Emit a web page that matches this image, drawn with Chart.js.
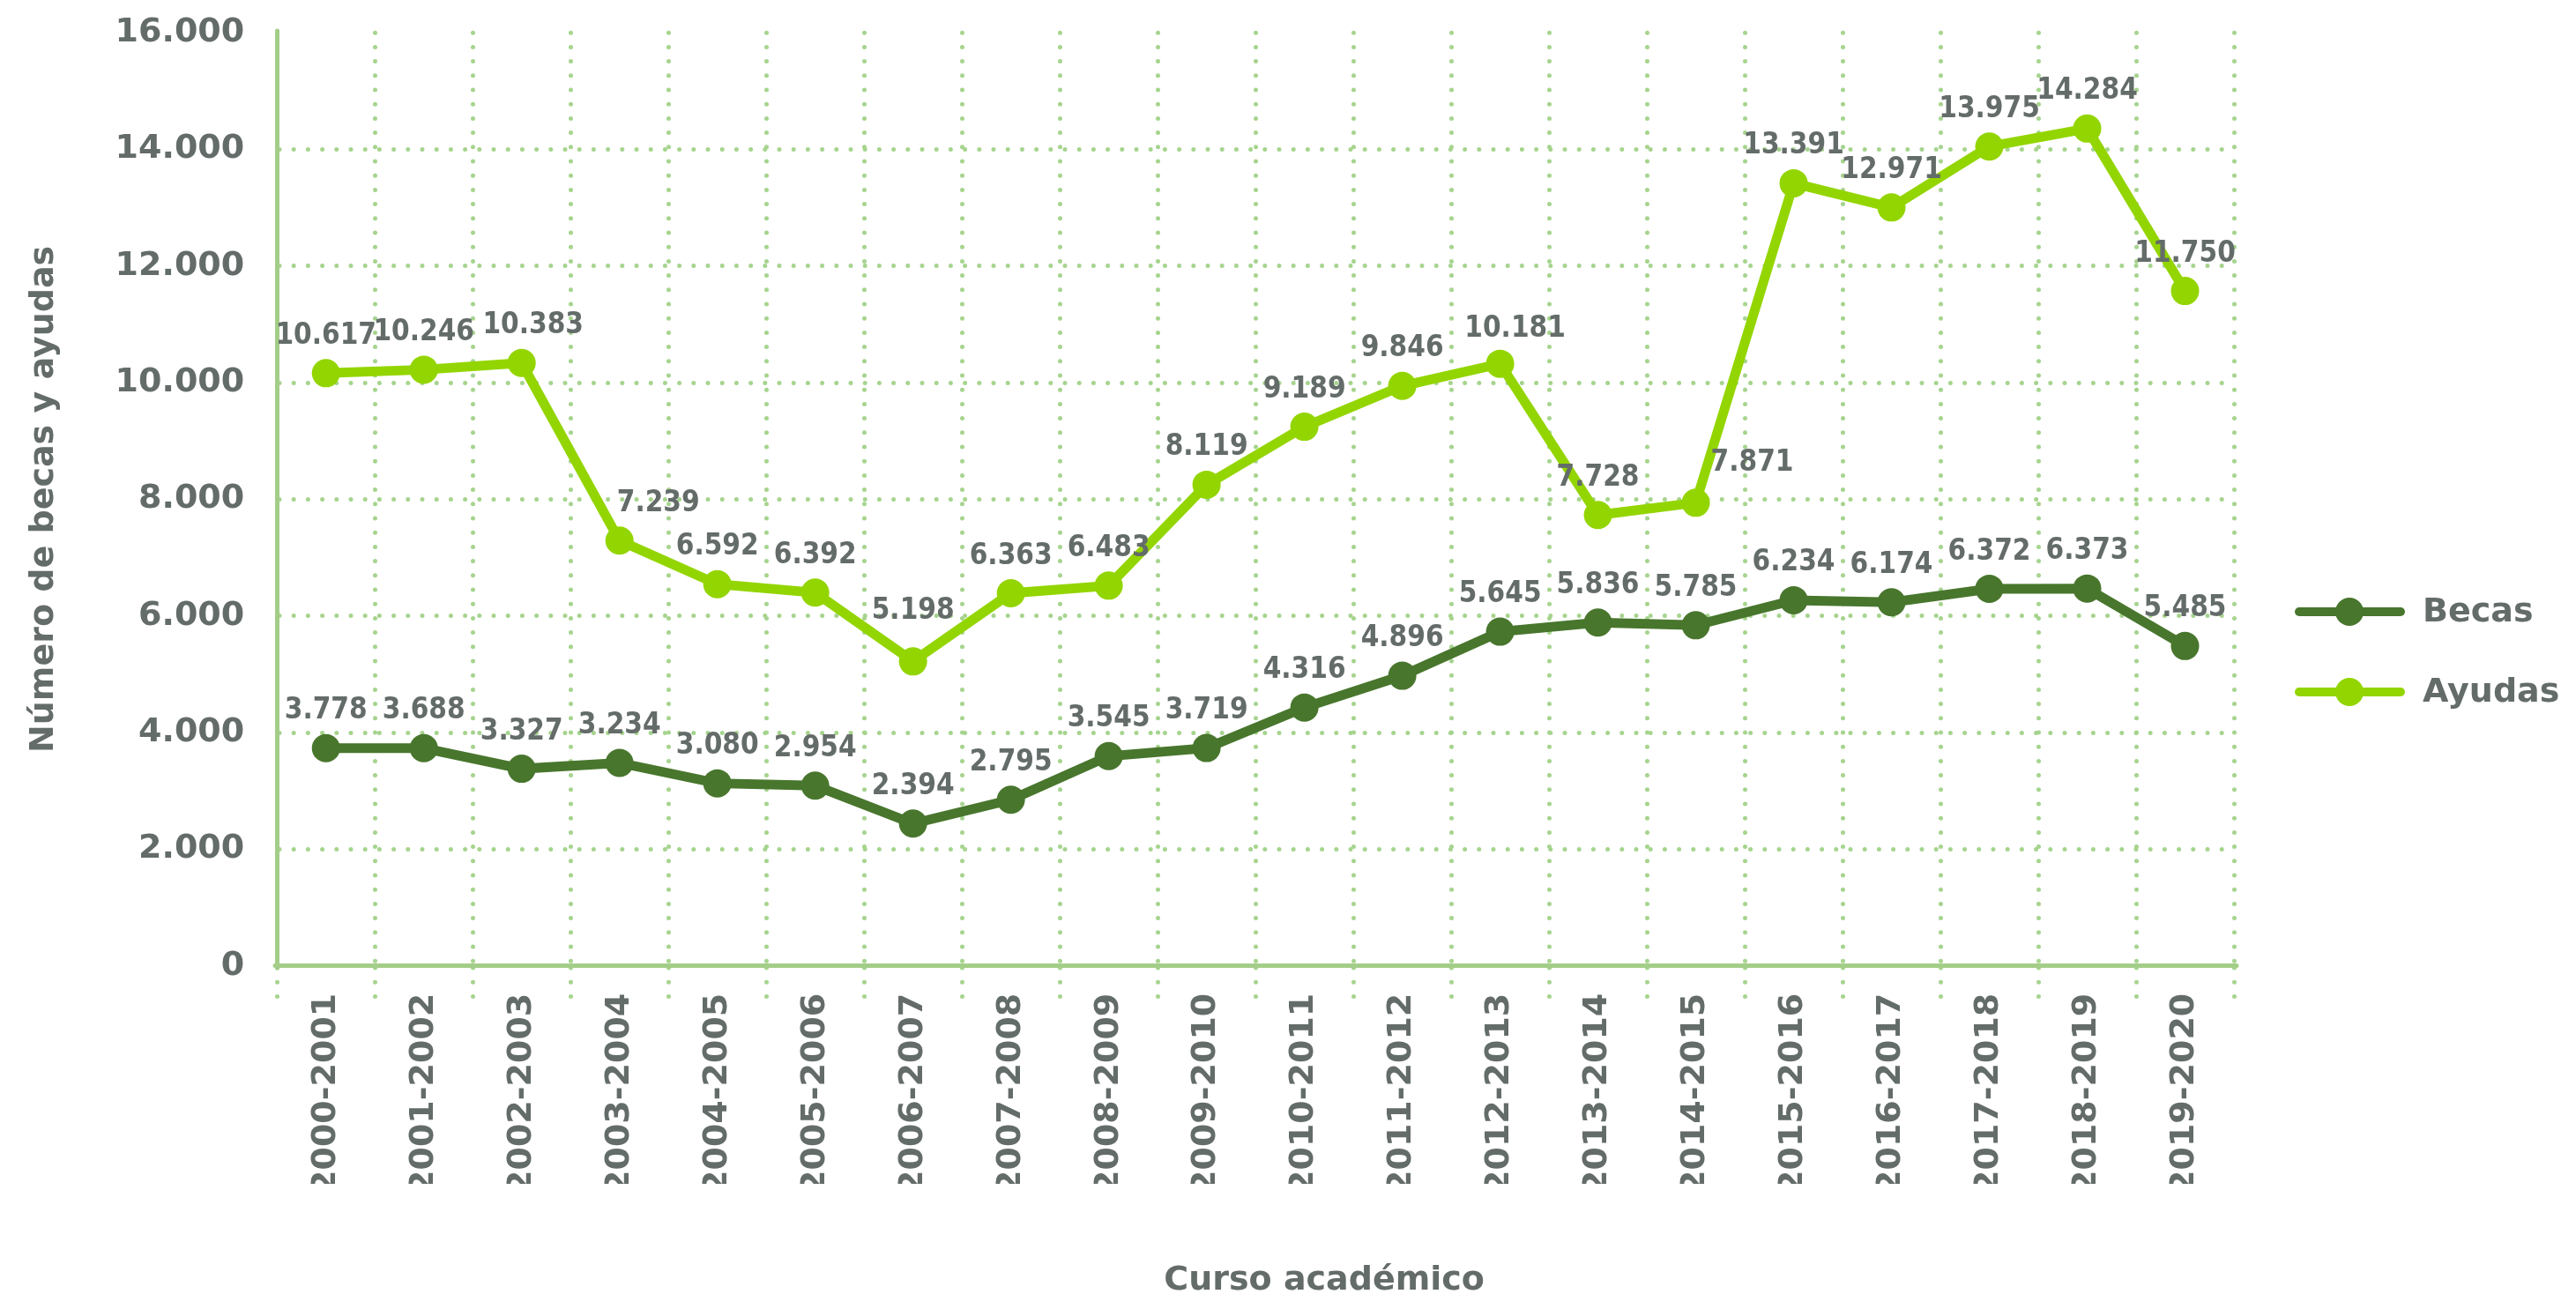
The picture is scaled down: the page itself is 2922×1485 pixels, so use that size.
<!DOCTYPE html>
<html lang="es">
<head>
<meta charset="utf-8">
<title>Becas y ayudas por curso académico</title>
<script src="https://cdn.jsdelivr.net/npm/chart.js@4/dist/chart.umd.min.js"></script>
<style>
  html, body { margin: 0; padding: 0; background: #ffffff; }
  #wrap { width: 2922px; height: 1485px; position: relative; }
</style>
</head>
<body>
<div id="wrap"><canvas id="becasChart"></canvas></div>
<script>
// Cursos académicos
const cursos = [
  "2000-2001", "2001-2002", "2002-2003", "2003-2004", "2004-2005",
  "2005-2006", "2006-2007", "2007-2008", "2008-2009", "2009-2010",
  "2010-2011", "2011-2012", "2012-2013", "2013-2014", "2014-2015",
  "2015-2016", "2016-2017", "2017-2018", "2018-2019", "2019-2020"
];

// Valores impresos sobre cada punto
const becasEtiquetas = [3778, 3688, 3327, 3234, 3080, 2954, 2394, 2795, 3545, 3719,
  4316, 4896, 5645, 5836, 5785, 6234, 6174, 6372, 6373, 5485];
const ayudasEtiquetas = [10617, 10246, 10383, 7239, 6592, 6392, 5198, 6363, 6483, 8119,
  9189, 9846, 10181, 7728, 7871, 13391, 12971, 13975, 14284, 11750];

// Altura a la que aparece cada punto en el gráfico
const becas = [3732, 3732, 3380, 3480, 3130, 3090, 2440, 2848, 3596, 3735,
  4430, 4975, 5730, 5886, 5840, 6270, 6234, 6466, 6470, 5485];
const ayudas = [10163, 10223, 10338, 7292, 6545, 6400, 5220, 6390, 6520, 8250,
  9245, 9945, 10325, 7730, 7941, 13420, 13005, 14050, 14358, 11573];

// Eje Y
const yMin = 0;
const yMax = 16000;
const yPaso = 2000;

const GRIS = "#646c69";
const VERDE_OSCURO = "#48762d";
const VERDE_CLARO = "#93d500";
const REJILLA = "#a6d48e";
const EJE = "#a3cd88";
const FUENTE = "'DejaVu Sans', sans-serif";

function miles(n) {
  return String(n).replace(/\B(?=(\d{3})+(?!\d))/g, ".");
}

// puntos redondos en la rejilla punteada
const lineCapPlugin = {
  id: "lineCap",
  beforeDraw(chart) { chart.ctx.lineCap = "round"; },
  afterDraw(chart) { chart.ctx.lineCap = "butt"; }
};

// etiquetas de valor encima de cada punto
const etiquetasPlugin = {
  id: "etiquetas",
  afterDatasetsDraw(chart, args, opts) {
    const ctx = chart.ctx;
    ctx.save();
    ctx.font = "bold 33px 'DejaVu Sans Condensed', 'DejaVu Sans', sans-serif";
    ctx.fillStyle = GRIS;
    ctx.textAlign = "center";
    ctx.textBaseline = "middle";
    chart.data.datasets.forEach((ds, d) => {
      const meta = chart.getDatasetMeta(d);
      const ajustes = (opts.ajustes && opts.ajustes[d]) || {};
      meta.data.forEach((pt, i) => {
        const aj = ajustes[i] || [0, 0];
        ctx.fillText(miles(ds.etiquetas[i]), pt.x + aj[0], pt.y - 42 + aj[1]);
      });
    });
    ctx.restore();
  }
};

// leyenda a la derecha y título del eje X
const leyendaPlugin = {
  id: "leyenda",
  afterDraw(chart) {
    const ctx = chart.ctx;
    const area = chart.chartArea;
    ctx.save();
    const x0 = area.right + 74;
    const filas = [694, 785];
    chart.data.datasets.forEach((ds, d) => {
      const y = filas[d];
      ctx.strokeStyle = ds.borderColor;
      ctx.lineWidth = 10;
      ctx.lineCap = "round";
      ctx.beginPath();
      ctx.moveTo(x0, y);
      ctx.lineTo(x0 + 115, y);
      ctx.stroke();
      ctx.fillStyle = ds.borderColor;
      ctx.beginPath();
      ctx.arc(x0 + 57, y, 16, 0, Math.PI * 2);
      ctx.fill();
      ctx.fillStyle = GRIS;
      ctx.font = "bold 38px " + FUENTE;
      ctx.textAlign = "left";
      ctx.textBaseline = "middle";
      ctx.fillText(ds.label, x0 + 140, y + 1);
    });
    ctx.font = "bold 38px " + FUENTE;
    ctx.textAlign = "center";
    ctx.textBaseline = "middle";
    ctx.fillStyle = GRIS;
    ctx.fillText("Curso académico", (area.left + area.right) / 2 + 78, chart.height - 32);
    ctx.restore();
  }
};

const ctx = document.getElementById("becasChart").getContext("2d");
new Chart(ctx, {
  type: "line",
  data: {
    labels: cursos,
    datasets: [
      {
        label: "Becas",
        data: becas,
        etiquetas: becasEtiquetas,
        borderColor: VERDE_OSCURO,
        backgroundColor: VERDE_OSCURO,
        borderWidth: 11,
        pointRadius: 16,
        pointHoverRadius: 16,
        pointBorderWidth: 0,
        tension: 0
      },
      {
        label: "Ayudas",
        data: ayudas,
        etiquetas: ayudasEtiquetas,
        borderColor: VERDE_CLARO,
        backgroundColor: VERDE_CLARO,
        borderWidth: 11,
        pointRadius: 16,
        pointHoverRadius: 16,
        pointBorderWidth: 0,
        tension: 0
      }
    ]
  },
  options: {
    responsive: true,
    maintainAspectRatio: false,
    animation: false,
    events: [],
    layout: { padding: { top: 37, right: 388, bottom: 142, left: 0 } },
    plugins: {
      legend: { display: false },
      tooltip: { enabled: false },
      etiquetas: {
        ajustes: {
          1: { 2: [13, 0], 3: [44, 0], 6: [0, -15], 12: [17, 3], 14: [64, -3] }
        }
      }
    },
    scales: {
      x: {
        offset: true,
        grid: {
          offset: true,
          color: REJILLA,
          lineWidth: 5,
          drawTicks: true,
          tickLength: 42,
          tickBorderDash: [0, 16.2],
          tickColor: REJILLA,
          tickWidth: 5
        },
        border: { display: true, color: EJE, width: 5, dash: [0, 16.2] },
        ticks: {
          autoSkip: false,
          minRotation: 90,
          maxRotation: 90,
          padding: -11,
          color: GRIS,
          font: { family: FUENTE, size: 38, weight: "bold" }
        }
      },
      y: {
        min: yMin,
        max: yMax,
        grid: {
          color: (c) => (c.tick && c.tick.value === yMax ? "rgba(0,0,0,0)" : REJILLA),
          lineWidth: 5,
          drawTicks: false
        },
        border: { display: true, color: EJE, width: 5, dash: [0, 16.2] },
        ticks: {
          stepSize: yPaso,
          padding: 37,
          color: GRIS,
          font: { family: FUENTE, size: 38, weight: "bold", lineHeight: 0.01 },
          callback: (v) => miles(v)
        },
        title: {
          display: true,
          text: "Número de becas y ayudas",
          color: GRIS,
          font: { family: FUENTE, size: 38, weight: "bold", lineHeight: 1.2 },
          padding: { top: 27, bottom: 21 }
        }
      }
    }
  },
  plugins: [lineCapPlugin, etiquetasPlugin, leyendaPlugin]
});
</script>
</body>
</html>
